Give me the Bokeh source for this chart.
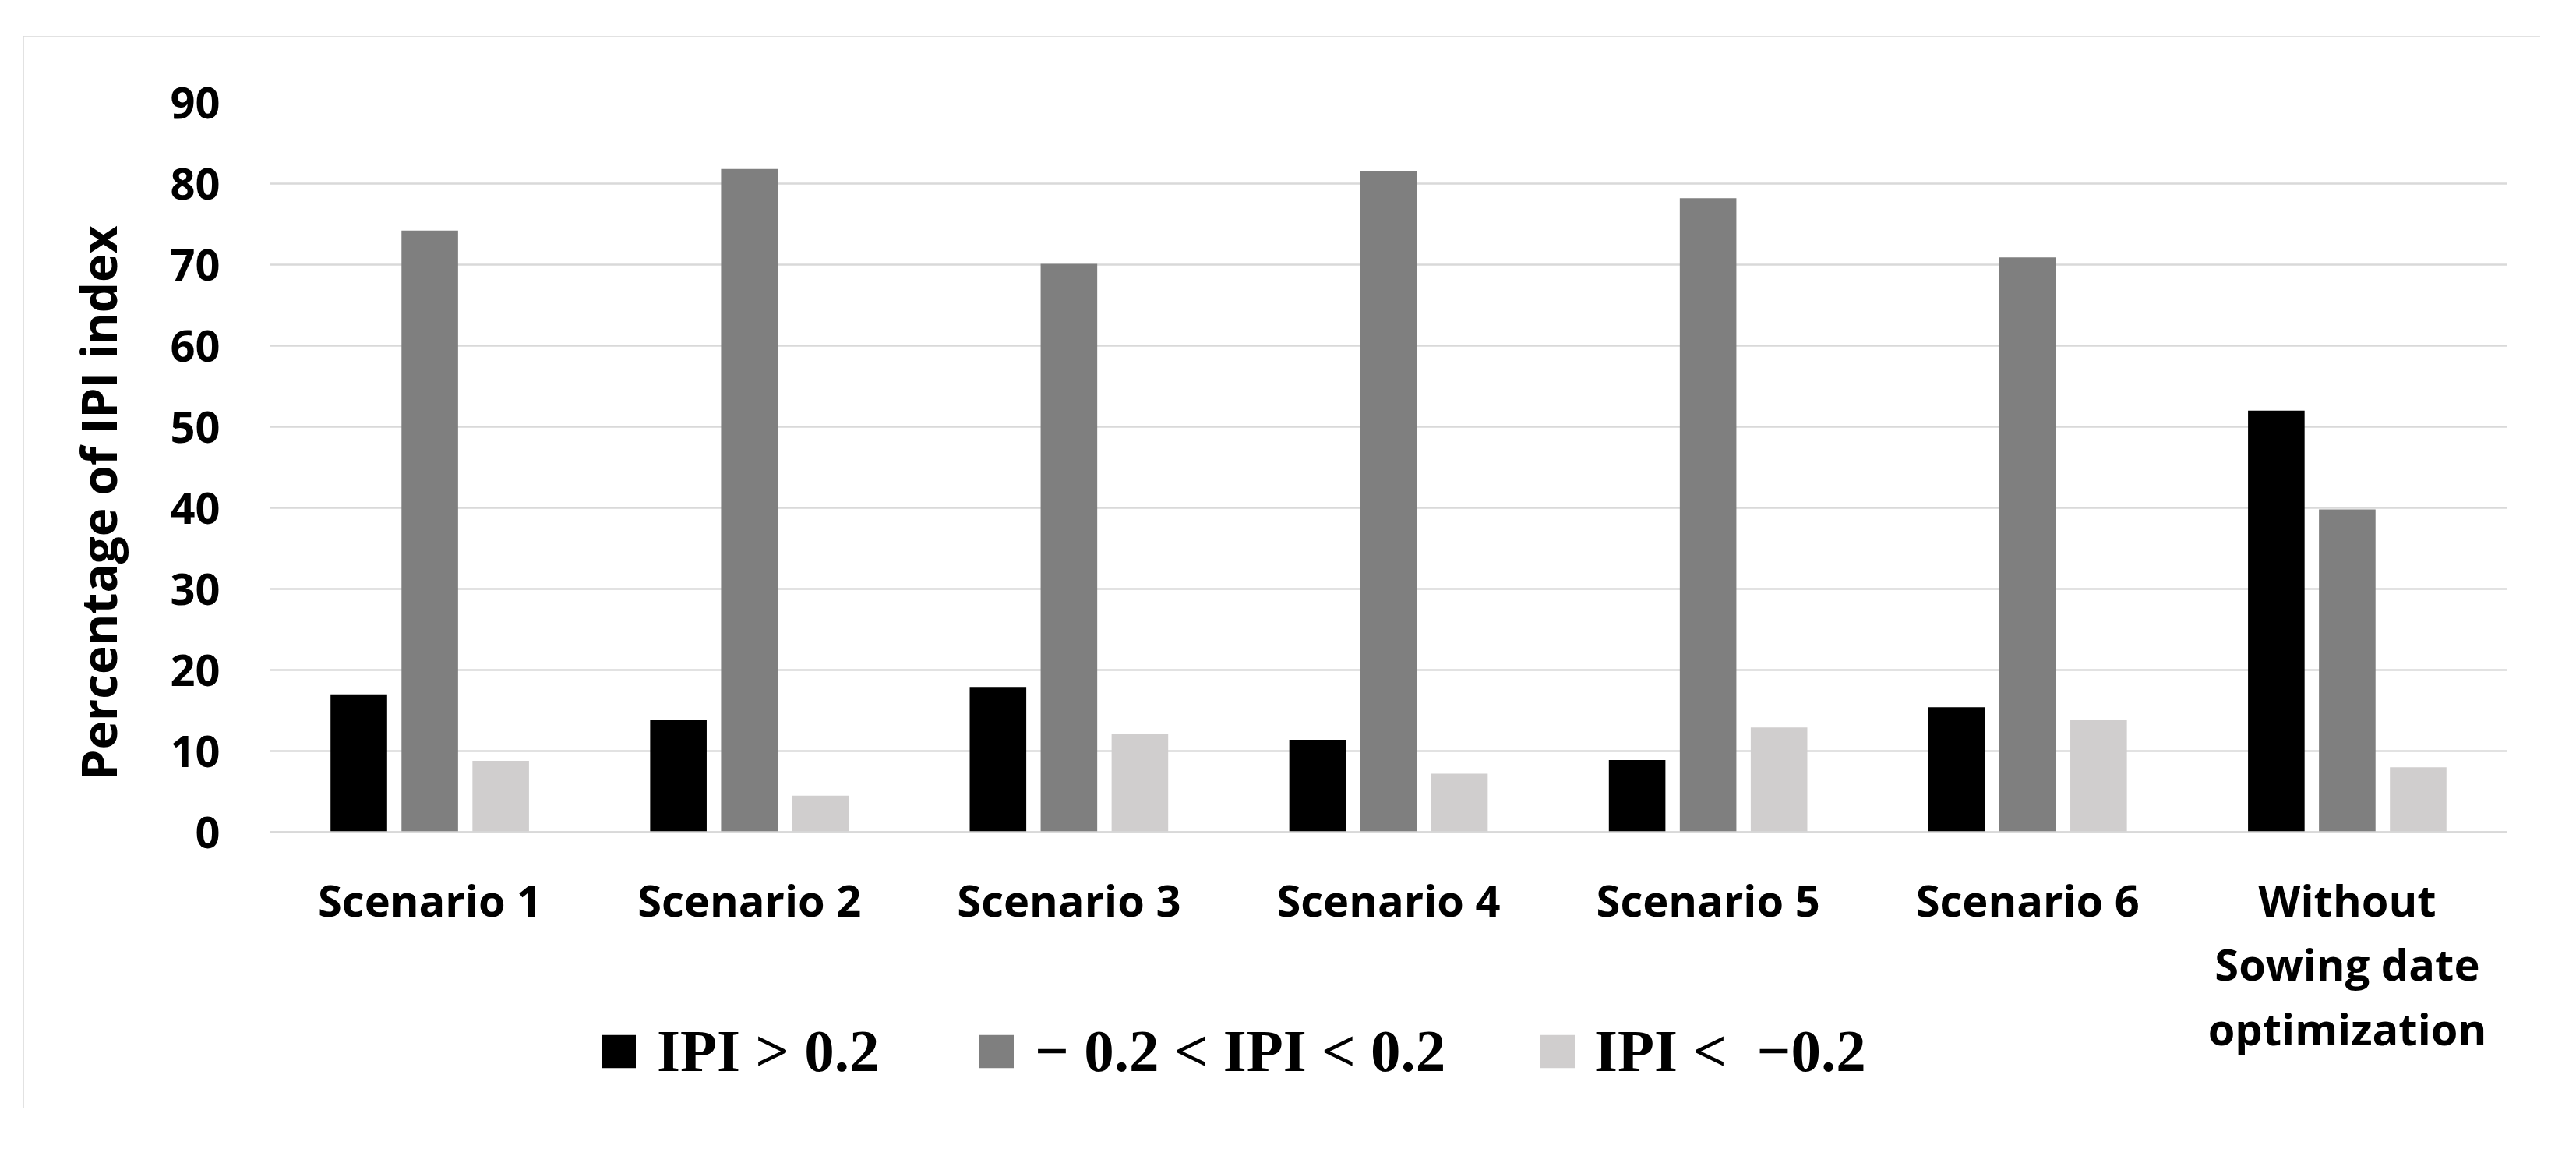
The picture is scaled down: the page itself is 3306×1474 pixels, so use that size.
from bokeh.plotting import figure
from bokeh.models import ColumnDataSource, FactorRange, Range1d, Legend, LegendItem, Title
from bokeh.transform import dodge
from bokeh.embed import file_html
from bokeh.resources import INLINE

# ---- data ----
categories = ["Scenario 1", "Scenario 2", "Scenario 3", "Scenario 4",
              "Scenario 5", "Scenario 6", "Without\nSowing date\noptimization"]
ipi_high = [17.0, 13.8, 17.9, 11.4, 8.9, 15.4, 52.0]
ipi_mid = [74.2, 81.8, 70.1, 81.5, 78.2, 70.9, 39.8]
ipi_low = [8.8, 4.5, 12.1, 7.2, 12.9, 13.8, 8.0]
series_labels = ["IPI > 0.2", "\u2212 0.2 < IPI < 0.2", "IPI <  \u22120.2"]
series_colors = ["#000000", "#7f7f7f", "#d0cece"]
y_ticks = [0, 10, 20, 30, 40, 50, 60, 70, 80, 90]
y_title = "Percentage of IPI index"

# ---- layout (pixels) ----
W, H = 3230, 1375
frame_top, value_height, below_zero = 85, 936, 348   # 0..90 spans value_height px
y_max = 90
px_per_unit = value_height / y_max
y_min = -below_zero / px_per_unit

source = ColumnDataSource(dict(cat=categories, high=ipi_high, mid=ipi_mid, low=ipi_low))

p = figure(x_range=FactorRange(*categories), y_range=Range1d(y_min, y_max),
           width=W, height=H, output_backend="svg", toolbar_location=None,
           min_border_left=316, min_border_right=43, min_border_top=frame_top,
           min_border_bottom=H - frame_top - value_height - below_zero)
p.margin = (46, 0, 0, 30)
p.styles = {"outline": "3px solid #d9d9d9", "outline-offset": "-3px"}
p.outline_line_color = None
p.background_fill_color = "white"
p.border_fill_color = "white"

offset = 0.222
bw = 0.177
renderers = []
for field, off, col in zip(["high", "mid", "low"], [-offset, 0.0, offset], series_colors):
    r = p.vbar(x=dodge("cat", off, range=p.x_range), top=field, width=bw, bottom=0,
               source=source, fill_color=col, line_color=None)
    renderers.append(r)

# grid
p.xgrid.grid_line_color = None
p.ygrid.grid_line_color = "#d9d9d9"
p.ygrid.grid_line_width = 2.5

# y axis
p.yaxis.ticker = y_ticks
p.yaxis.axis_line_color = None
p.yaxis.major_tick_line_color = None
p.yaxis.minor_tick_line_color = None
p.yaxis.major_label_standoff = 58
p.yaxis.major_label_text_font = "Open Sans"
p.yaxis.major_label_text_font_style = "bold"
p.yaxis.major_label_text_font_size = "56px"
p.yaxis.major_label_text_color = "black"

# y title (side title, offset upward from the frame bottom)
yt = Title(text=y_title, align="left", offset=415, standoff=96,
           text_font="Open Sans", text_font_style="bold", text_font_size="62px",
           text_color="black")
p.add_layout(yt, "left")

# x axis sits at value 0
p.xaxis.fixed_location = 0
p.xaxis.axis_line_color = "#d9d9d9"
p.xaxis.axis_line_width = 2.5
p.xaxis.major_tick_line_color = None
p.xaxis.minor_tick_line_color = None
p.xaxis.major_label_standoff = 42
p.xaxis.major_label_text_font = "Open Sans"
p.xaxis.major_label_text_font_style = "bold"
p.xaxis.major_label_text_font_size = "56px"
p.xaxis.major_label_text_color = "black"
p.xaxis.major_label_text_line_height = 1.09

# legends (one per item, under the category labels)
leg_x = [420, 905, 1625]
leg_standoff = [22, 22, 20]
for r, lab, vx, st in zip(renderers, series_labels, leg_x, leg_standoff):
    lg = Legend(items=[LegendItem(label=lab, renderers=[r])], location=(vx, 22),
                orientation="horizontal", glyph_width=55, glyph_height=53,
                label_height=53, label_standoff=st, padding=0, margin=0, spacing=0,
                border_line_color=None, background_fill_alpha=0,
                label_text_font="Liberation Serif", label_text_font_style="bold",
                label_text_font_size="77px", label_text_color="black")
    p.add_layout(lg)

open("out.html", "w").write(file_html(p, INLINE))
